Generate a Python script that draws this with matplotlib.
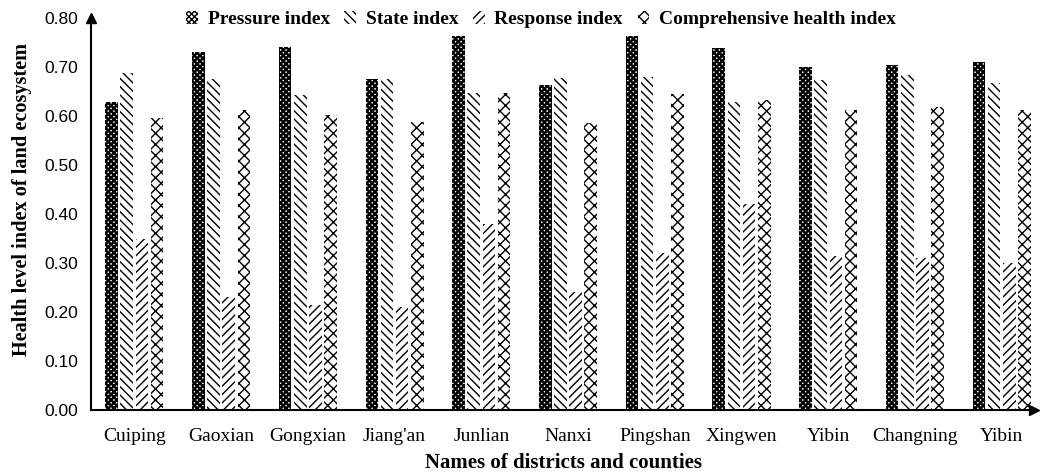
import matplotlib
matplotlib.use("Agg")
import matplotlib.pyplot as plt
import numpy as np

districts = ["Cuiping", "Gaoxian", "Gongxian", "Jiang'an", "Junlian", "Nanxi",
             "Pingshan", "Xingwen", "Yibin", "Changning", "Yibin"]
pressure = [0.629, 0.731, 0.740, 0.676, 0.763, 0.663, 0.763, 0.739, 0.700, 0.704, 0.710]
state = [0.688, 0.676, 0.643, 0.676, 0.647, 0.678, 0.680, 0.629, 0.673, 0.684, 0.667]
response = [0.350, 0.230, 0.215, 0.210, 0.380, 0.240, 0.320, 0.420, 0.315, 0.310, 0.300]
comprehensive = [0.596, 0.612, 0.602, 0.588, 0.647, 0.585, 0.645, 0.633, 0.612, 0.618, 0.612]
series_names = ["Pressure index", "State index", "Response index", "Comprehensive health index"]
yticks = [0.0, 0.1, 0.2, 0.3, 0.4, 0.5, 0.6, 0.7, 0.8]

fig = plt.figure(figsize=(10.4, 4.74), dpi=100)
ax = fig.add_axes([0.0875, 0.135, 0.909, 0.827])

x = np.arange(len(districts))
slot = 0.175
width = 0.145
hatches = ['xxxxxx', '\\\\\\\\', '////', 'xxx']
hatch_lws = [1.7, 1.0, 1.0, 1.0]
series = [pressure, state, response, comprehensive]
for i, (vals, name, h, hlw) in enumerate(zip(series, series_names, hatches, hatch_lws)):
    with plt.rc_context({'hatch.linewidth': hlw}):
        ax.bar(x + (i - 1.5) * slot, vals, width, facecolor='white', edgecolor='black',
               hatch=h, linewidth=0, label=name)

ax.set_xlim(-0.5, 10.4)
ax.set_ylim(0, 0.8)
ax.set_yticks(yticks)
ax.set_yticklabels([f"{v:.2f}" for v in yticks], family='Liberation Sans', fontsize=12.5)
ax.set_xticks(x)
ax.set_xticklabels(districts, family='Liberation Serif', fontsize=14)
ax.tick_params(axis='both', length=0)
ax.tick_params(axis='y', pad=9)
ax.tick_params(axis='x', pad=13)

for s in ['top', 'right']:
    ax.spines[s].set_visible(False)
for s in ['left', 'bottom']:
    ax.spines[s].set_linewidth(1.5)

ax.plot([0], [1.0], marker='^', color='black', markersize=7, transform=ax.transAxes, clip_on=False)
ax.plot([0.997], [0], marker='>', color='black', markersize=7, transform=ax.transAxes, clip_on=False)

ax.set_ylabel("Health level index of land ecosystem", family='Liberation Serif',
              fontweight='bold', fontsize=14.6)
ax.yaxis.set_label_coords(-0.0625, 0.538)
ax.set_xlabel("Names of districts and counties", family='Liberation Serif',
              fontweight='bold', fontsize=15, labelpad=5.5)

leg = ax.legend(loc='center', bbox_to_anchor=(0.476, 0.995), ncol=4, frameon=False,
                prop={'family': 'Liberation Serif', 'weight': 'bold', 'size': 14},
                handlelength=0.6, handleheight=0.6, handletextpad=0.5, columnspacing=0.75,
                borderpad=0, borderaxespad=0)

fig.savefig("out.png", dpi=100)
